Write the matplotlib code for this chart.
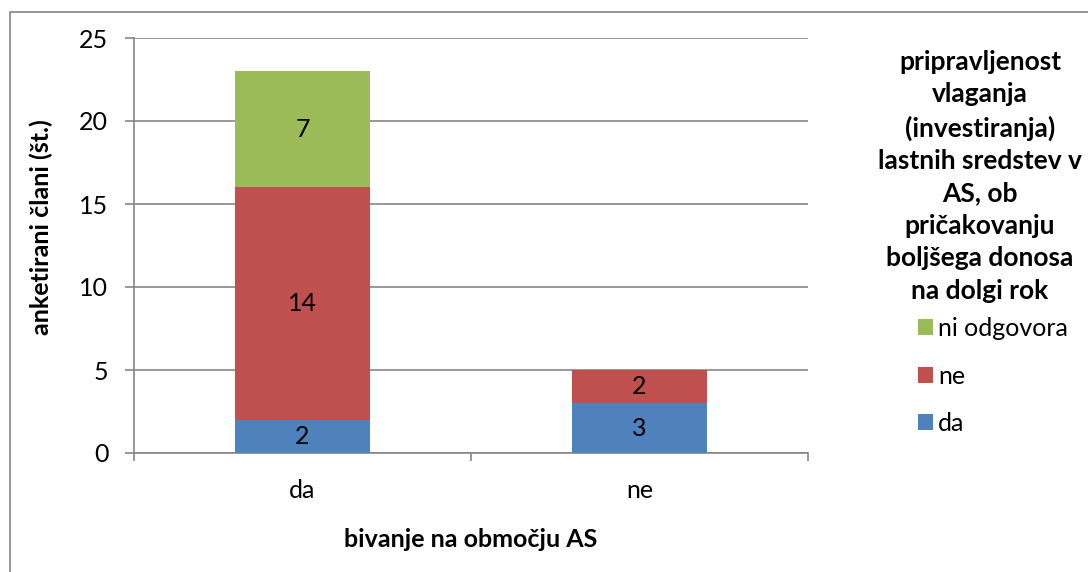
import matplotlib

matplotlib.use("Agg")
import matplotlib.pyplot as plt
import numpy as np
from matplotlib.patches import Rectangle

plt.rcParams["font.family"] = ["Lato", "DejaVu Sans"]

# data
categories = ["da", "ne"]
series_names = ["da", "ne", "ni odgovora"]
val_da = [2, 3]
val_ne = [14, 2]
val_ni = [7, 0]
colors = ["#4F81BD", "#C0504D", "#9BBB59"]

GRID = "#868686"
FS = 18

fig = plt.figure(figsize=(10.88, 5.72), dpi=100)
ax = fig.add_axes([134 / 1088, 1 - 453 / 572, 674 / 1088, 415 / 572])

x = np.arange(len(categories))
width = 0.4
bottom = np.zeros(len(categories))
containers = []
for vals, col in zip([val_da, val_ne, val_ni], colors):
    vals = np.array(vals, dtype=float)
    bars = ax.bar(x, vals, width, bottom=bottom, color=col, zorder=3)
    containers.append(bars)
    for xi, v, b in zip(x, vals, bottom):
        if v > 0:
            ax.text(xi, b + v / 2, f"{v:.0f}", ha="center", va="center",
                    fontsize=FS, color="black", zorder=4)
    bottom += vals

ax.set_xlim(-0.5, 1.5)
ax.set_ylim(0, 25)
ax.set_yticks(np.arange(0, 26, 5))
ax.yaxis.grid(True, color=GRID, linewidth=1.2, zorder=0)
ax.set_axisbelow(True)

ax.set_xticks(x)
ax.set_xticklabels(categories, fontsize=FS)
ax.set_xticks([-0.5, 0.5, 1.5], minor=True)
ax.tick_params(axis="x", which="major", length=0, pad=19)
ax.tick_params(axis="x", which="minor", length=6, color=GRID, width=1.2)
ax.tick_params(axis="y", length=6.5, color=GRID, width=1.2, pad=12, labelsize=FS)

for side in ("top", "right"):
    ax.spines[side].set_visible(False)
for side in ("left", "bottom"):
    ax.spines[side].set_color(GRID)
    ax.spines[side].set_linewidth(1.2)

ax.set_ylabel("anketirani člani (št.)", fontsize=FS, fontweight="bold")
ax.yaxis.set_label_coords(-0.12, 0.545)
ax.set_xlabel("bivanje na območju AS", fontsize=FS, fontweight="bold")
ax.xaxis.set_label_coords(0.5, -0.181)

# legend title and entries (reverse order, like the reference)
fig.text(980 / 1088, 1 - 50 / 572,
         "pripravljenost\nvlaganja\n(investiranja)\nlastnih sredstev v\nAS, ob\n"
         "pričakovanju\nboljšega donosa\nna dolgi rok",
         ha="center", va="top", multialignment="center",
         fontsize=19, fontweight="bold", linespacing=1.42)
handles = [containers[2][0], containers[1][0], containers[0][0]]
labels = series_names[::-1]
fig.legend(handles, labels, loc="upper left",
           bbox_to_anchor=(908 / 1088, 1 - 307 / 572),
           frameon=False, fontsize=FS, handlelength=0.6, handleheight=0.6,
           handletextpad=0.2, labelspacing=0.98, borderaxespad=0)

# outer chart frame
fig.patches.append(Rectangle((10 / 1088, -0.1), 1.2, 1.1 - 12 / 572,
                             transform=fig.transFigure, fill=False,
                             edgecolor=GRID, linewidth=1.2))

fig.savefig("out.png", dpi=100)
